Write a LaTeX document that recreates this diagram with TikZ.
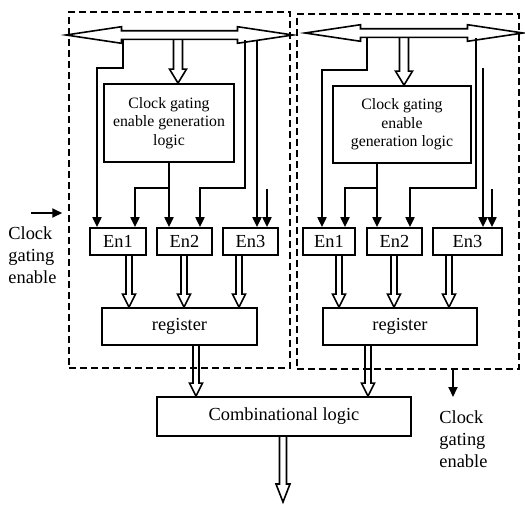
\documentclass[tikz,border=0pt]{standalone}
\usepackage{fontspec}
\setmainfont{Liberation Serif}
\usetikzlibrary{shapes,arrows.meta,positioning,calc}

\begin{document}
\begin{tikzpicture}[
    x=0.5pt, y=-0.5pt,
    font=\fontsize{9.2}{11}\selectfont,
    box/.style={rectangle, draw=black, line width=0.9pt, inner sep=0pt, align=center},
    region/.style={rectangle, draw=black, dash pattern=on 3.5pt off 2pt, line width=0.75pt, inner sep=0pt},
    bus/.style={double arrow, draw=black, fill=white, line width=0.8pt, inner xsep=0pt, inner ysep=1.75pt,
        minimum width=7.5pt, double arrow head extend=2pt, double arrow tip angle=17, double arrow head indent=0pt},
    sig/.style={line width=1pt, -{Triangle[length=5pt, width=4.5pt]}},
    hollowarr/.style n args={3}{line width=0.8pt, to path={let \p1=(\tikztostart), \p2=(\tikztotarget) in
        (\x1-#1,\y1) -- (\x1-#1,\y2+#3) -- (\x1-#2,\y2+#3) -- (\x1,\y2) -- (\x1+#2,\y2+#3) -- (\x1+#1,\y2+#3) -- (\x1+#1,\y1)}},
    hollow/.style={hollowarr={1.5pt}{3.25pt}{6.5pt}},
    hollowbig/.style={hollowarr={2.25pt}{4.25pt}{7pt}},
    hollowout/.style={hollowarr={1.75pt}{3.5pt}{9pt}}
]
\useasboundingbox (0,0) rectangle (525,504);

% dashed blocks
\node[region, minimum width=110.5pt, minimum height=178pt] (blk1) at (179.5,190) {};
\node[region, minimum width=111pt, minimum height=177.5pt] (blk2) at (408,191.5) {};

% buses
\node[bus, minimum height=113.5pt] (bus1) at (179.5,35) {};
\node[bus, minimum height=109pt] (bus2) at (414,33) {};

% clock gating enable generation logic
\node[box, minimum width=65pt, minimum height=39pt, font=\fontsize{7.9}{9.2}\selectfont] (cg1) at (169,123) {Clock gating\\enable generation\\logic};
\node[box, minimum width=69pt, minimum height=38.5pt, font=\fontsize{7.9}{9.2}\selectfont] (cg2) at (402,124.5) {Clock gating\\enable\\generation logic};

% enable cells
\node[box, minimum width=28pt, minimum height=13.5pt] (en11) at (118,241.5) {En1};
\node[box, minimum width=27.5pt, minimum height=13.5pt] (en12) at (184.5,241.5) {En2};
\node[box, minimum width=27.5pt, minimum height=13.5pt] (en13) at (250.5,241.5) {En3};
\node[box, minimum width=26pt, minimum height=13.5pt] (en21) at (329,241.5) {En1};
\node[box, minimum width=27.5pt, minimum height=13.5pt] (en22) at (394.5,241.5) {En2};
\node[box, minimum width=34.5pt, minimum height=13.5pt] (en23) at (467.5,241.5) {En3};

% registers and logic
\node[box, minimum width=77.5pt, minimum height=18.5pt] (reg1) at (179.5,326.5) {register};
\node[box, minimum width=77pt, minimum height=18.5pt] (reg2) at (400,326.5) {register};
\node[box, minimum width=127pt, minimum height=19.5pt] (comb) at (284,416.5) {Combinational logic};

% hollow data arrows
\draw[hollowbig] (178,0 |- bus1.south) to (178,0 |- cg1.north);
\draw[hollowbig] (404,0 |- bus2.south) to (404,0 |- cg2.north);
\foreach \xpos/\e in {129/en11,184/en12,239/en13}
    \draw[hollow] (\xpos,0 |- \e.south) to (\xpos,0 |- reg1.north);
\foreach \xpos/\e in {339/en21,394/en22,449/en23}
    \draw[hollow] (\xpos,0 |- \e.south) to (\xpos,0 |- reg2.north);
\draw[hollow] (196,0 |- reg1.south) to (196,0 |- comb.north);
\draw[hollow] (368,0 |- reg2.south) to (368,0 |- comb.north);
\coordinate (out) at (283,502);
\draw[hollowout] (comb.south -| out) to (out);

% left block signals
\coordinate (ext13) at (267,189);
\draw[sig] (123,0 |- bus1.south) -- (123,68) -| (97,0 |- en11.north);
\draw[sig] (cg1.south) -- (cg1.south |- en12.north);
\draw[sig] (cg1.south |- 0,188) -| (135,0 |- en11.north);
\draw[sig] (245,0 |- bus1.south) |- (200,188) -- (200,0 |- en12.north);
\draw[sig] (257,0 |- bus1.south) -- (257,0 |- en13.north);
\draw[sig] (ext13) -- (ext13 |- en13.north);

% right block signals
\coordinate (ext23a) at (483,68);
\coordinate (ext23b) at (492,189);
\draw[sig] (367,0 |- bus2.south) -- (367,70) -| (322,0 |- en21.north);
\draw[sig] (377,0 |- cg2.south) -- (377,0 |- en22.north);
\draw[sig] (377,188) -| (345,0 |- en21.north);
\draw[sig] (476,0 |- bus2.south) |- (410,188) -- (410,0 |- en22.north);
\draw[sig] (ext23a) -- (ext23a |- en23.north);
\draw[sig] (ext23b) -- (ext23b |- en23.north);

% clock gating enable
\coordinate (ext1) at (31,213);
\draw[sig, shorten >=3pt] (ext1) -- (ext1 -| blk1.west);
\node[anchor=west, align=left, inner sep=0pt] (lbl1) at (8,255) {Clock\\gating\\enable};
\coordinate (ext2) at (453,397);
\draw[sig] (blk2.south -| ext2) -- (ext2);
\node[anchor=west, align=left, inner sep=0pt] (lbl2) at (439,439) {Clock\\gating\\enable};

\end{tikzpicture}
\end{document}
